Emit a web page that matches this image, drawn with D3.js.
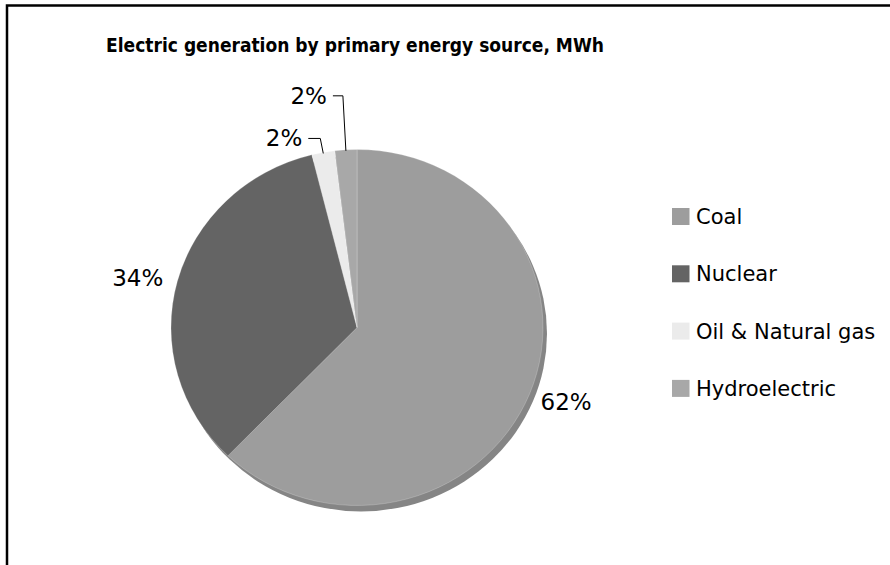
<!DOCTYPE html>
<html><head><meta charset="utf-8">
<script src="https://cdn.jsdelivr.net/npm/d3@7"></script>
<style>body{margin:0;background:#fff}svg{display:block}</style>
</head><body>
<svg id="c" width="890" height="565"></svg>
<script>
const title = "Electric generation by primary energy source, MWh";
const categories = ["Coal", "Nuclear", "Oil & Natural gas", "Hydroelectric"];
const values = [62.2, 33.9, 2.0, 1.9];
const colors = ["#9d9d9d", "#646464", "#ebebeb", "#a8a8a8"];

const svg = d3.select("#c");
const W = 890, H = 565;
const cx = 357, cy = 327.5, rx = 186, ry = 178;

// frame (only top and left edges visible)
svg.append("path").attr("d", `M7,${H} V5.5 H${W}`).attr("fill", "none")
  .attr("stroke", "#000").attr("stroke-width", 2.5);

const t = svg.append("text").attr("x", 355).attr("y", 52).attr("text-anchor", "middle")
  .attr("font-family", "DejaVu Sans Condensed").attr("font-weight", "bold").attr("font-size", 19)
  .attr("fill", "#000").text(title);
if (t.node().getComputedTextLength() > 515) {
  t.attr("font-family", "DejaVu Sans").attr("font-size", 17);
}

const pie = d3.pie().sort(null).value(d => d)(values);
const arc = d3.arc().innerRadius(0).outerRadius(ry);
const sx = rx / ry;

// shadow
svg.append("ellipse").attr("cx", cx + 4).attr("cy", cy + 6).attr("rx", rx).attr("ry", ry)
  .attr("fill", "#858585");

const g = svg.append("g").attr("transform", `translate(${cx},${cy}) scale(${sx},1)`);
g.selectAll("path").data(pie).join("path")
  .attr("d", arc).attr("fill", (d, i) => colors[i])
  .attr("stroke", "#ffffff").attr("stroke-opacity", 0.35).attr("stroke-width", 0.6)
  .attr("vector-effect", "non-scaling-stroke");

function pt(a, k) { return [cx + rx * k * Math.sin(a), cy - ry * k * Math.cos(a)]; }

const fmt = d3.format(".0%");
const total = d3.sum(values);
const lab = svg.append("g").attr("font-family", "DejaVu Sans").attr("font-size", 23).attr("fill", "#000");

// large slices: labels just outside the edge
const bigOff = [16, 4];
[0, 1].forEach(i => {
  const d = pie[i], a = (d.startAngle + d.endAngle) / 2;
  const [x, y] = pt(a, 1);
  const right = Math.sin(a) > 0;
  lab.append("text").attr("x", right ? x + 11 : x - 14).attr("y", y + bigOff[i])
    .attr("text-anchor", right ? "start" : "end").text(fmt(values[i] / total));
});

// small slices: labels with leader lines
const small = [{ i: 2, dy: -14, hx: 12 }, { i: 3, dy: -54, hx: 10 }];
small.forEach(s => {
  const d = pie[s.i], a = (d.startAngle + d.endAngle) / 2;
  const [x, y] = pt(a, 1);
  const ly = y + s.dy;
  const ex = x - 3;
  svg.append("path").attr("d", `M${x},${y + 1} L${ex},${ly} H${ex - s.hx}`)
    .attr("fill", "none").attr("stroke", "#000").attr("stroke-width", 1);
  lab.append("text").attr("x", ex - s.hx - 6).attr("y", ly + 8)
    .attr("text-anchor", "end").text(fmt(values[s.i] / total));
});

// legend
const leg = svg.append("g").attr("font-family", "DejaVu Sans").attr("font-size", 21);
categories.forEach((c, i) => {
  const y = 216.5 + i * 57.3;
  leg.append("rect").attr("x", 672).attr("y", y - 8.5).attr("width", 17.5).attr("height", 17)
    .attr("fill", colors[i]);
  leg.append("text").attr("x", 696).attr("y", y + 7.5).attr("fill", "#000").text(c);
});
</script>
</body></html>
